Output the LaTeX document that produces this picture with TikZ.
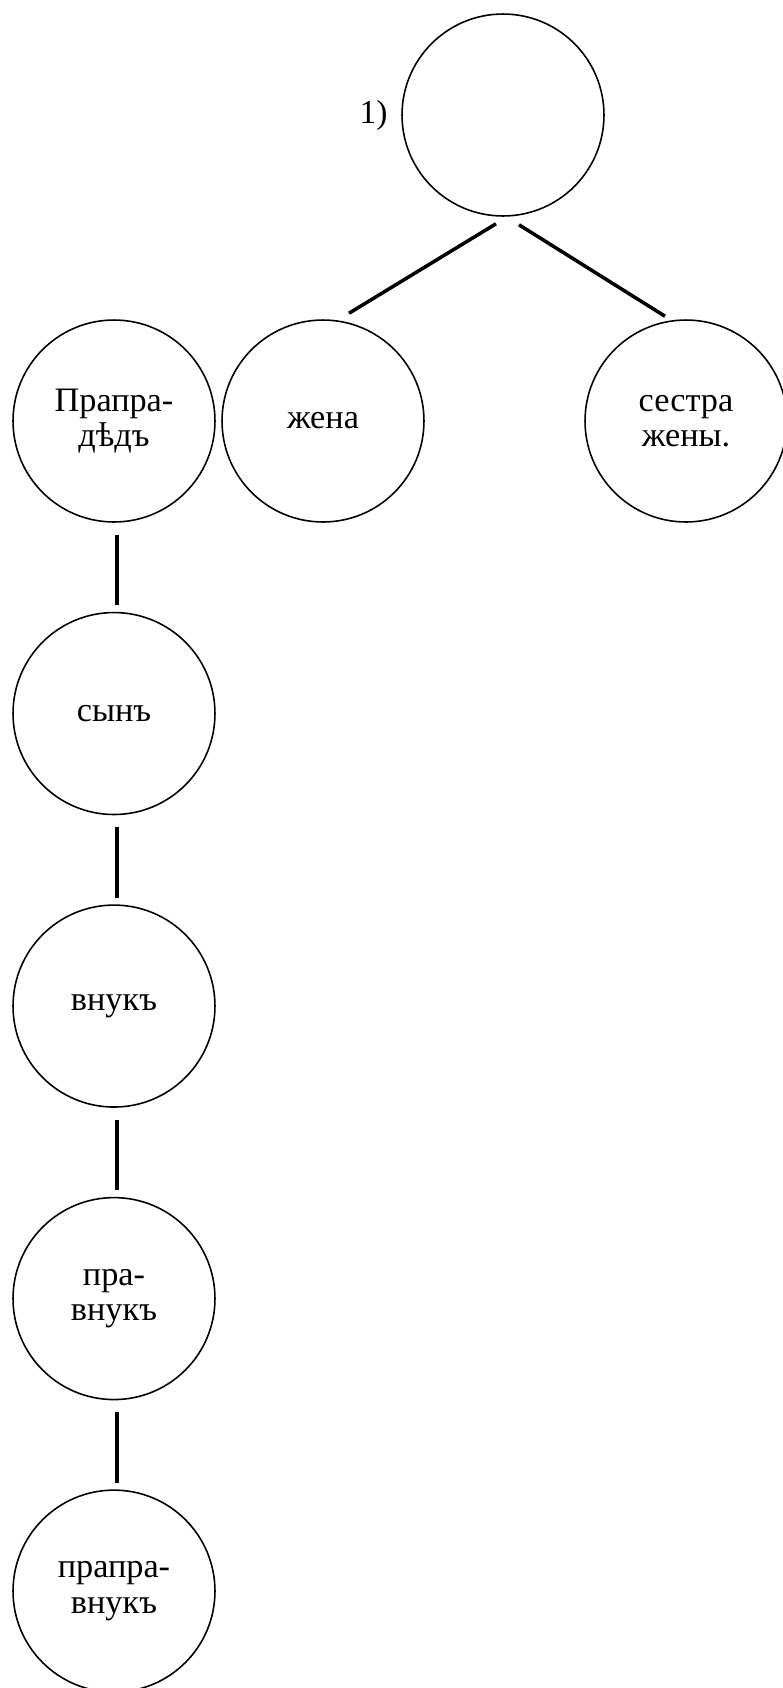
\documentclass[tikz,border=0pt]{standalone}
\usepackage{fontspec}
\setmainfont{Liberation Serif}
\usetikzlibrary{positioning,calc}

\begin{document}
\begin{tikzpicture}[
  x=0.02cm, y=-0.02cm,
  kin/.style={draw, circle, line width=0.9pt, minimum size=4.04cm, inner sep=0pt, align=center, font=\fontsize{19.5}{20}\selectfont},
  link/.style={line width=2pt},
  vlink/.style={link, shorten <=0.24cm, shorten >=0.13cm},
]
\useasboundingbox (0,0) rectangle (782,1688);

% Top
\node[kin] (root) at (503,115) {};
\node[font=\fontsize{19}{20}\selectfont, left=0.15cm of root] (num) {1)};

% Level 1
\node[kin] (pra) at (114,421) {Прапра-\\дѣдъ};
\node[kin] (wife) at (323,421) {жена};
\node[kin] (sister) at (686,421) {сестра\\жены.};

% Descendants
\node[kin, below=1.78cm of pra] (son) {сынъ};
\node[kin, below=1.78cm of son] (grandson) {внукъ};
\node[kin, below=1.78cm of grandson] (ggson) {пра-\\внукъ};
\node[kin, below=1.78cm of ggson] (gggson) {прапра-\\внукъ};

% Lines
\draw[link] ([shift={(-0.14cm,-0.14cm)}]root.south) -- ([shift={(0.52cm,0.12cm)}]wife.north);
\draw[link] ([shift={(0.32cm,-0.16cm)}]root.south) -- ([shift={(-0.42cm,0.06cm)}]sister.north);
\draw[vlink] ([xshift=0.06cm]pra.south) -- ([xshift=0.06cm]son.north);
\draw[vlink] ([xshift=0.06cm]son.south) -- ([xshift=0.06cm]grandson.north);
\draw[vlink] ([xshift=0.06cm]grandson.south) -- ([xshift=0.06cm]ggson.north);
\draw[vlink] ([xshift=0.06cm]ggson.south) -- ([xshift=0.06cm]gggson.north);

\end{tikzpicture}
\end{document}
